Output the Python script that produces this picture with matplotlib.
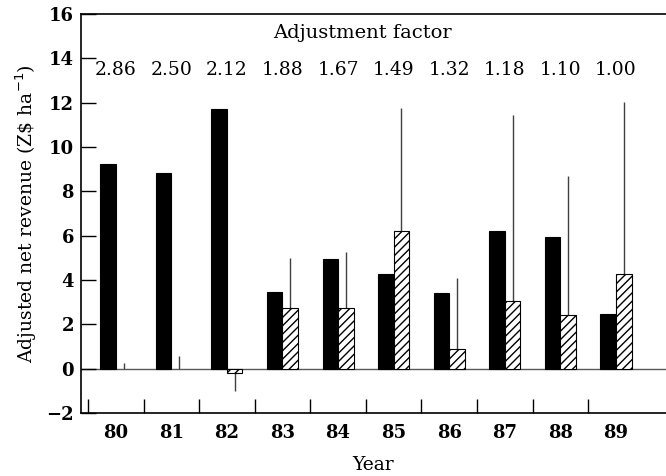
import matplotlib
matplotlib.use("Agg")
import matplotlib.pyplot as plt
import numpy as np

years = ["80", "81", "82", "83", "84", "85", "86", "87", "88", "89"]
factors = ["2.86", "2.50", "2.12", "1.88", "1.67", "1.49", "1.32", "1.18", "1.10", "1.00"]
solid = [9.22, 8.84, 11.70, 3.45, 4.96, 4.26, 3.43, 6.21, 5.95, 2.47]
hatched = [0.0, 0.0, -0.18, 2.75, 2.72, 6.20, 0.87, 3.07, 2.41, 4.26]
# end of the one-sided error line
err_end = [0.24, 0.59, -0.99, 5.0, 5.26, 11.77, 4.08, 11.44, 8.69, 12.04]

plt.rcParams['font.family'] = ['DejaVu Serif']

fig = plt.figure(figsize=(6.66, 4.76), dpi=100)
ax = fig.add_axes([81 / 666, 1 - 413 / 476, 1 - 81 / 666, 399 / 476])

x = np.arange(len(years))
w = 0.28
hatched = np.array(hatched)
err_end = np.array(err_end)
ax.bar(x - w / 2, solid, w, color='black', edgecolor='black', linewidth=0.8, zorder=3)
nz = hatched != 0
ax.bar(x[nz] + w / 2, hatched[nz], w, color='white', edgecolor='black', hatch='////',
       linewidth=0.8, zorder=3)

lo = np.where(err_end < hatched, hatched - err_end, 0)
hi = np.where(err_end > hatched, err_end - hatched, 0)
ax.errorbar(x + w / 2, hatched, yerr=[lo, hi], fmt='none', ecolor='0.25',
            elinewidth=1.0, capsize=0, zorder=2)

ax.axhline(0, color='0.35', lw=1.0, zorder=1)

ax.set_xlim(-0.625, 9.9)
ax.set_ylim(-2, 16)
ax.set_yticks(range(-2, 17, 2))
ax.set_yticklabels(['\u22122'] + [str(v) for v in range(0, 17, 2)])
ax.set_xticks(x - 0.5)
ax.set_xticklabels([])
ax.set_xticks(x, minor=True)
ax.set_xticklabels(years, minor=True)
ax.tick_params(axis='x', which='major', direction='in', length=10, width=1)
ax.tick_params(axis='x', which='minor', length=0, pad=8, labelsize=13)
ax.tick_params(axis='y', direction='in', length=11, width=1, labelsize=13, pad=5)
for lab in ax.get_yticklabels() + ax.get_xticklabels(minor=True):
    lab.set_fontweight('bold')

for s in ['left', 'top', 'bottom']:
    ax.spines[s].set_linewidth(1.2)
ax.spines['right'].set_visible(False)

ax.text(4.44, 15.15, "Adjustment factor", ha='center', va='center', fontsize=14)
for xi, f in zip(x, factors):
    ax.text(xi, 13.47, f, ha='center', va='center', fontsize=13.5)

ax.set_xlabel("Year", fontsize=13.5, labelpad=10)
ax.set_ylabel("Adjusted net revenue (Z\\$ ha$^{-1}$)", fontsize=13.5, labelpad=5)

fig.savefig("out.png", dpi=100)
